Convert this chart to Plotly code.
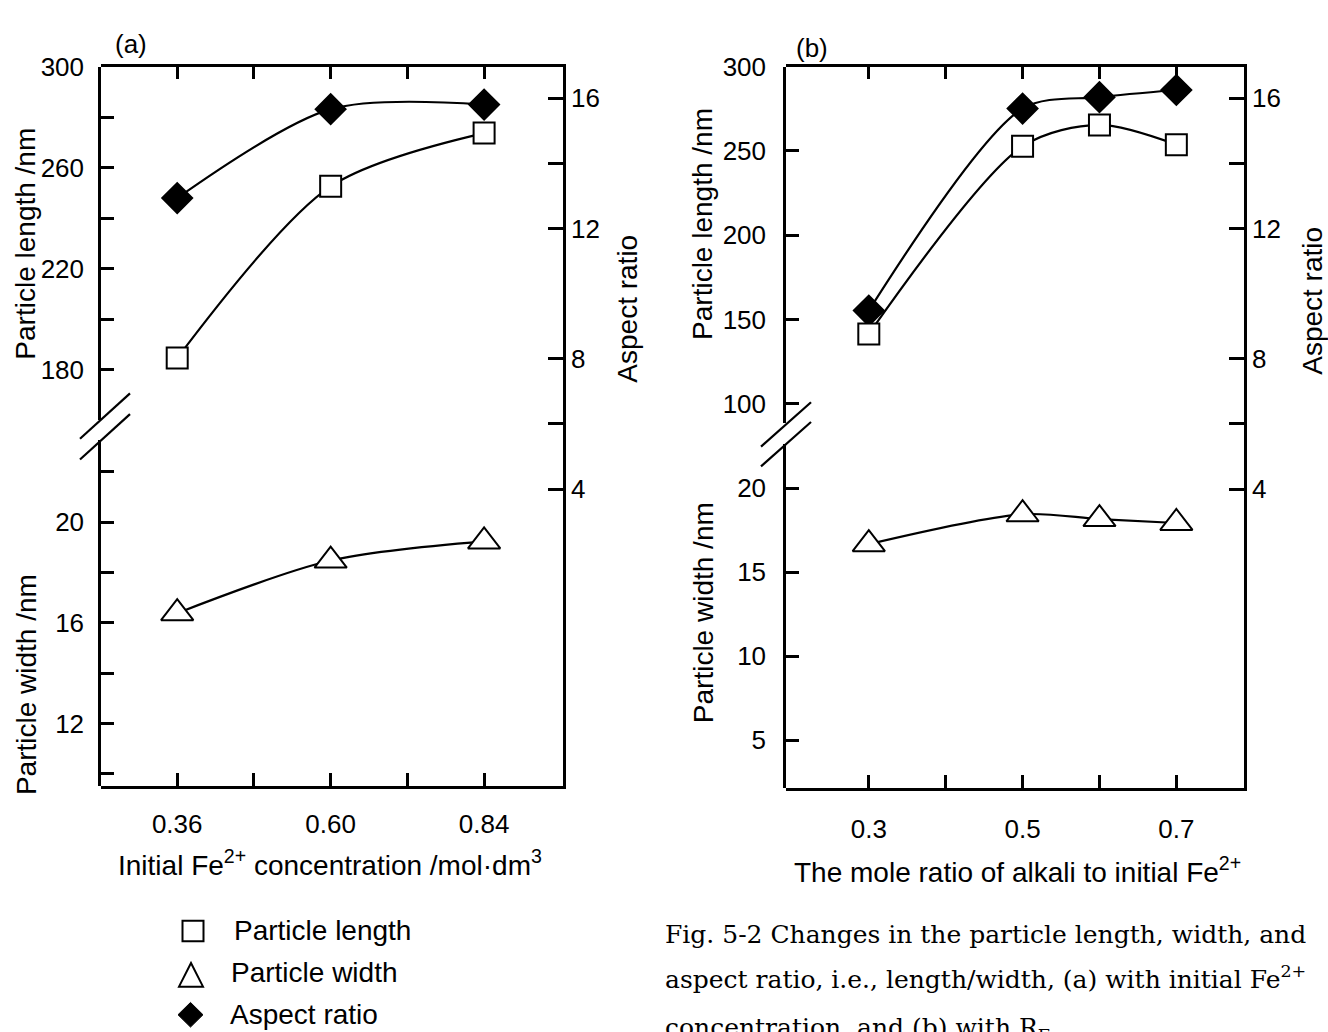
import plotly.graph_objects as go

W, H = 1328, 1032


def px(x):
    return x / W


def py(y):
    return 1 - y / H


SANS = "Liberation Sans, Arial, sans-serif"
SERIF = "DejaVu Serif, serif"

# ---------------- data ----------------
# panel (a): initial Fe2+ concentration
conc_a = [0.36, 0.60, 0.84]
length_a = [184.6, 252.6, 273.7]
width_a = [16.38, 18.47, 19.23]
aspect_a = [12.93, 15.66, 15.80]

# panel (b): mole ratio of alkali to initial Fe2+
ratio_b = [0.3, 0.5, 0.6, 0.7]
length_b = [141.5, 252.7, 265.4, 253.7]
width_b = [16.66, 18.44, 18.15, 17.92]
aspect_b = [9.48, 15.68, 16.03, 16.25]

# ticks
xt_a = [0.36, 0.48, 0.60, 0.72, 0.84]
xl_a = ["0.36", "", "0.60", "", "0.84"]
xt_b = [0.3, 0.4, 0.5, 0.6, 0.7]
xl_b = ["0.3", "", "0.5", "", "0.7"]
lt_a = [180, 200, 220, 240, 260, 280, 300]
ll_a = ["180", "", "220", "", "260", "", "300"]
wt_a = [10, 12, 14, 16, 18, 20, 22]
wl_a = ["", "12", "", "16", "", "20", ""]
lt_b = [100, 150, 200, 250, 300]
ll_b = ["100", "150", "200", "250", "300"]
wt_b = [5, 10, 15, 20]
wl_b = ["5", "10", "15", "20"]
at = [4, 6, 8, 12, 14, 16]
al = ["4", "", "8", "12", "", "16"]

fig = go.Figure()


def series(x, y, xa, ya, symbol, fill, size, name):
    fig.add_trace(go.Scatter(
        x=x, y=y, xaxis=xa, yaxis=ya, mode="lines+markers", name=name,
        line=dict(color="black", width=2.2, shape="spline", smoothing=0.85),
        marker=dict(symbol=symbol, size=size, color=fill,
                    line=dict(color="black", width=2)),
        showlegend=False, cliponaxis=False))


# panel (a)
series(conc_a, width_a, "x", "y", "triangle-up", "white", 28, "Particle width")
series(conc_a, aspect_a, "x", "y2", "diamond", "black", 23, "Aspect ratio")
series(conc_a, length_a, "x", "y3", "square", "white", 21, "Particle length")
# panel (b)
series(ratio_b, width_b, "x2", "y4", "triangle-up", "white", 28, "Particle width")
series(ratio_b, aspect_b, "x2", "y5", "diamond", "black", 23, "Aspect ratio")
series(ratio_b, length_b, "x2", "y6", "square", "white", 21, "Particle length")

base = dict(showgrid=False, zeroline=False, showline=True, linecolor="black",
            linewidth=2.5, ticks="inside", tickcolor="black", tickwidth=2.5,
            ticklen=13, tickmode="array",
            tickfont=dict(family=SANS, size=26, color="black"))

# panel (a) frame: x from 101 to 563, y from 52.4 to 782
fig.update_layout(
    xaxis=dict(base, domain=[px(101), px(563)], range=[0.2408, 0.9634],
               anchor="y2", mirror="ticks", tickvals=xt_a, ticktext=xl_a,
               ticklabelstandoff=13),
    yaxis=dict(base, domain=[py(782), py(431.7)], range=[9.53, 23.24],
               anchor="x", side="left", tickvals=wt_a, ticktext=wl_a,
               ticklabelstandoff=9),
    yaxis3=dict(base, domain=[py(410.7), py(52.4)], range=[160.2, 300],
                anchor="x", side="left", tickvals=lt_a, ticktext=ll_a,
                ticklabelstandoff=9),
    yaxis2=dict(base, domain=[py(782), py(52.4)], range=[-5.10, 16.964],
                anchor="x", side="right", tickvals=at, ticktext=al,
                ticklen=15, ticklabelstandoff=0),
    # panel (b) frame: x from 786 to 1244, y from 52.3 to 784
    xaxis2=dict(base, domain=[px(786), px(1244)], range=[0.1923, 0.788],
                anchor="y5", mirror="ticks", tickvals=xt_b, ticktext=xl_b,
                ticklabelstandoff=16),
    yaxis4=dict(base, domain=[py(784), py(435)], range=[2.17, 22.64],
                anchor="x2", side="left", tickvals=wt_b, ticktext=wl_b,
                ticklabelstandoff=12),
    yaxis6=dict(base, domain=[py(414), py(52.3)], range=[88.7, 300],
                anchor="x2", side="left", tickvals=lt_b, ticktext=ll_b,
                ticklabelstandoff=12),
    yaxis5=dict(base, domain=[py(784), py(52.3)], range=[-5.16, 16.97],
                anchor="x2", side="right", tickvals=at, ticktext=al,
                ticklen=15, ticklabelstandoff=0),
)

# axis-break marks
shapes = []
for (x0, y0, x1, y1) in [(130, 384, 80, 430), (130, 405, 80, 451),
                         (811, 393, 761, 438), (811, 413, 761, 458)]:
    shapes.append(dict(type="line", xref="paper", yref="paper",
                       x0=px(x0), y0=py(y0), x1=px(x1), y1=py(y1),
                       line=dict(color="black", width=2.2)))

# legend keys
shapes.append(dict(type="rect", xref="paper", yref="paper",
                   x0=px(182.5), x1=px(203.5), y0=py(940), y1=py(919),
                   line=dict(color="black", width=2), fillcolor="white"))
shapes.append(dict(type="path", xref="paper", yref="paper",
                   path="M {:.5f},{:.5f} L {:.5f},{:.5f} L {:.5f},{:.5f} Z".format(
                       px(179), py(986), px(203), py(986), px(191), py(962)),
                   line=dict(color="black", width=2), fillcolor="white"))
shapes.append(dict(type="path", xref="paper", yref="paper",
                   path="M {:.5f},{:.5f} L {:.5f},{:.5f} L {:.5f},{:.5f} L {:.5f},{:.5f} Z".format(
                       px(190.5), py(1002), px(203), py(1014.5), px(190.5), py(1027),
                       px(178), py(1014.5)),
                   line=dict(color="black", width=1), fillcolor="black"))

ann = []


def text(x, y, s, size=28, family=SANS, angle=0, xanchor="center"):
    ann.append(dict(x=px(x), y=py(y), xref="paper", yref="paper", text=s,
                    showarrow=False, textangle=angle, xanchor=xanchor,
                    yanchor="middle", font=dict(family=family, size=size,
                                                color="black")))


text(131, 29, "(a)", size=26)
text(812, 33, "(b)", size=26)
text(26, 232, "Particle length /nm", angle=-90)
text(26, 680, "Particle width /nm", angle=-90)
text(628, 298, "Aspect ratio", angle=-90)
text(703, 212, "Particle length /nm", angle=-90)
text(703, 607, "Particle width /nm", angle=-90)
text(1313, 290, "Aspect ratio", angle=-90)
text(330, 860, "Initial Fe<sup>2+</sup> concentration /mol·dm<sup>3</sup>")
text(1017, 868, "The mole ratio of alkali to initial Fe<sup>2+</sup>")

# legend labels
text(232, 929, "Particle length", xanchor="left")
text(229, 972, "Particle width", xanchor="left")
text(228, 1014, "Aspect ratio", xanchor="left")

# caption
text(663, 933, "Fig. 5-2 Changes in the particle length, width, and",
     size=25, family=SERIF, xanchor="left")
text(663, 977, "aspect ratio, i.e., length/width, (a) with initial Fe<sup>2+</sup>",
     size=25, family=SERIF, xanchor="left")
text(663, 1029, "concentration, and (b) with R<sub>F</sub>.",
     size=25, family=SERIF, xanchor="left")

fig.update_layout(
    width=W, height=H, autosize=False,
    margin=dict(l=0, r=0, t=0, b=0, pad=0),
    paper_bgcolor="white", plot_bgcolor="rgba(0,0,0,0)",
    showlegend=False, shapes=shapes, annotations=ann,
    font=dict(family=SANS, color="black"),
)

fig.write_html("out.html", config={"displayModeBar": False})
